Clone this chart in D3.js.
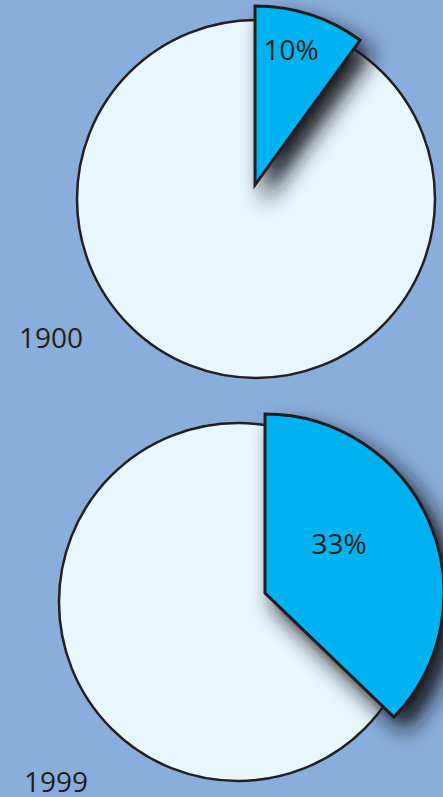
<!DOCTYPE html>
<html>
<head>
<meta charset="utf-8">
<script src="https://cdn.jsdelivr.net/npm/d3@7"></script>
<style>
  html, body { margin: 0; padding: 0; background: #8aaedb; overflow: hidden; }
  svg { display: block; }
  text { font-family: "Open Sans", sans-serif; fill: #231f20; }
</style>
</head>
<body>
<div id="main"></div>
<script>
// values
var years = ['1900', '1999'];
var sliceLabels = ['10%', '33%'];
// share of the circle each blue wedge covers as drawn (the 1999 wedge is drawn wider than its label)
var sliceShares = [0.10, 0.372];

var svgWidth = 443, svgHeight = 797;

// layout of each pie: centre, how far the wedge is pulled out, where texts go
var layout = [
	{ cx: 256, cy: 199, dx: -1, dy: -14, label: [36, -125], year: [19, 348] },
	{ cx: 238, cy: 602, dx: 27, dy: -9, label: [74, -39], year: [24, 792] }
];
var radius = 179;

var svg = d3.select('#main').append('svg')
			.attr('width', svgWidth)
			.attr('height', svgHeight);

var defs = svg.append('defs');
defs.append('filter')
	.attr('id', 'shadow')
	.attr('x', '-50%').attr('y', '-50%')
	.attr('width', '200%').attr('height', '200%')
	.append('feDropShadow')
	.attr('dx', 11)
	.attr('dy', 13)
	.attr('stdDeviation', 11)
	.attr('flood-color', '#15151c')
	.attr('flood-opacity', 1);

var pie = d3.pie().sort(null).value(function(d){ return d; });
var arc = d3.arc().innerRadius(0).outerRadius(radius);

years.forEach(function(year, i){
	var lay = layout[i];
	var parts = pie([sliceShares[i], 1 - sliceShares[i]]);
	var g = svg.append('g')
		.attr('transform', 'translate(' + lay.cx + ',' + lay.cy + ')');

	// whole disc underneath
	g.append('path')
		.attr('d', arc({ startAngle: 0, endAngle: 2 * Math.PI }))
		.style('fill', '#e8f6fe')
		.style('stroke', '#231f20')
		.style('stroke-width', 2.5);

	// pulled out wedge
	var wedge = g.append('g')
		.attr('transform', 'translate(' + lay.dx + ',' + lay.dy + ')');
	wedge.append('path')
		.attr('d', arc(parts[0]))
		.attr('filter', 'url(#shadow)')
		.style('fill', '#00b2ef')
		.style('stroke', '#231f20')
		.style('stroke-width', 3)
		.style('stroke-linejoin', 'miter');
	wedge.append('text')
		.attr('x', lay.label[0])
		.attr('y', lay.label[1])
		.attr('text-anchor', 'middle')
		.style('font-size', '28px')
		.text(sliceLabels[i]);

	svg.append('text')
		.attr('x', lay.year[0])
		.attr('y', lay.year[1])
		.style('font-size', '28px')
		.text(year);
});
</script>
</body>
</html>
